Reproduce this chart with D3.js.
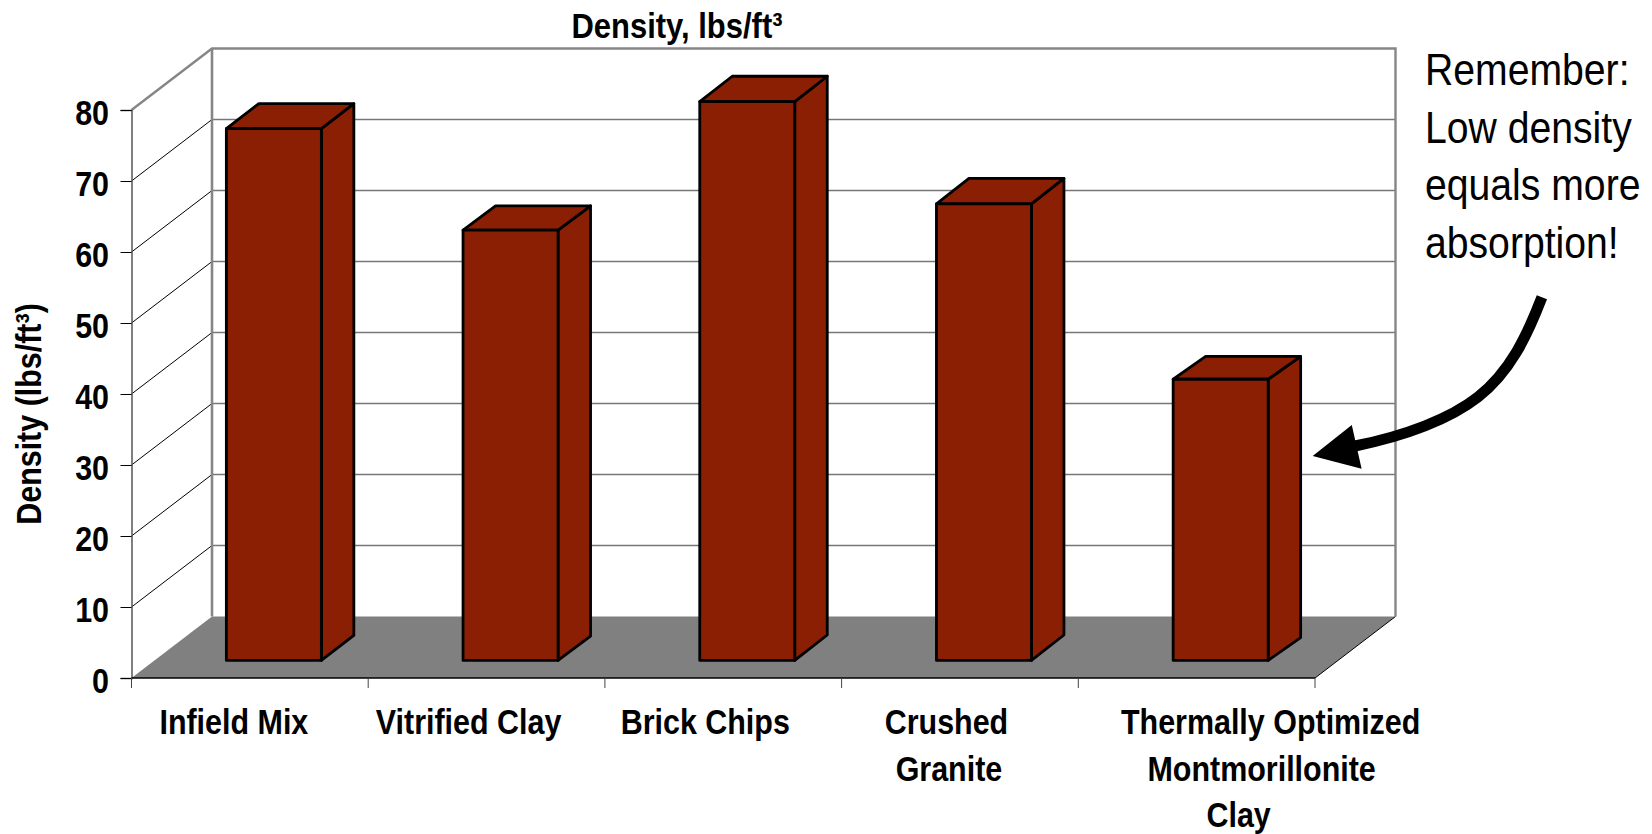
<!DOCTYPE html>
<html>
<head>
<meta charset="utf-8">
<title>Density, lbs/ft³</title>
<script src="https://cdnjs.cloudflare.com/ajax/libs/d3/7.8.5/d3.min.js"></script>
<style>
html, body { margin: 0; padding: 0; background: #fff; }
svg { display: block; }
text { font-family: "Liberation Sans", Arial, sans-serif; fill: #000; }
.lab { font-weight: 700; font-size: 35px; }
.note { font-weight: 400; font-size: 44px; }
</style>
</head>
<body>
<svg id="chart" width="1652" height="834"></svg>
<script>
// Bulk density of each infield material
const categories = ["Infield Mix", "Vitrified Clay", "Brick Chips", "Crushed Granite", "Thermally Optimized Montmorillonite Clay"];
const densities = [74.9, 60.6, 78.7, 64.3, 39.6];
const categoryLines = [["Infield Mix"], ["Vitrified Clay"], ["Brick Chips"], ["Crushed", "Granite"], ["Thermally Optimized", "Montmorillonite", "Clay"]];
const yTicks = [0, 10, 20, 30, 40, 50, 60, 70, 80];
const noteLines = ["Remember:", "Low density", "equals more", "absorption!"];

// Oblique projection of the 3-D box: wall offset and bar depth
const wall = { dx: 80.5, dy: 61.5 };
const frontInset = { dx: 24, dy: 17.6 };
const barDepthX = 32.5;
const barRise = [25, 24.3, 25.4, 25.4, 22.8];
const barWidth = 95;

// Horizontal offset of each category label line from its band centre
const labelShift = [[-16], [-18], [-18], [-13.5, -11], [74, 65, 42]];

// Horizontal squeeze that gives the narrow letterforms
const narrow = 0.87;

const svg = d3.select("#chart");
const y = d3.scaleLinear().domain([0, 80]).range([678, 110]);
const x = d3.scaleBand().domain(categories).range([131.5, 1315]);
const y0 = y(0), xL = x.range()[0], xR = x.range()[1];

// Floor
svg.append("path")
  .attr("d", d3.line()([[xL, y0], [xR, y0], [xR + wall.dx, y0 - wall.dy], [xL + wall.dx, y0 - wall.dy]]) + "Z")
  .attr("fill", "#808080");
svg.append("line")
  .attr("x1", xR).attr("y1", y0).attr("x2", xR + wall.dx).attr("y2", y0 - wall.dy)
  .attr("stroke", "#000").attr("stroke-width", 1);

// Back-wall gridlines
svg.append("g").selectAll("line").data(yTicks.filter(t => t > 0 && t < 80)).join("line")
  .attr("x1", xL + wall.dx).attr("x2", xR + wall.dx)
  .attr("y1", d => y(d) - wall.dy).attr("y2", d => y(d) - wall.dy)
  .attr("stroke", "#777").attr("stroke-width", 1.7);

// Side-wall diagonals
svg.append("g").selectAll("line").data(yTicks.filter(t => t > 0 && t < 80)).join("line")
  .attr("x1", xL).attr("x2", xL + wall.dx)
  .attr("y1", d => y(d)).attr("y2", d => y(d) - wall.dy)
  .attr("stroke", "#000").attr("stroke-width", 1);

// Wall outline
svg.append("path")
  .attr("d", d3.line()([[xL, y(80)], [xL + wall.dx, y(80) - wall.dy], [xR + wall.dx, y(80) - wall.dy], [xR + wall.dx, y0 - wall.dy]]))
  .attr("fill", "none").attr("stroke", "#868686").attr("stroke-width", 2.4);
svg.append("line")
  .attr("x1", xL + wall.dx).attr("x2", xL + wall.dx)
  .attr("y1", y(80) - wall.dy).attr("y2", y0 - wall.dy)
  .attr("stroke", "#868686").attr("stroke-width", 2.6);

// Axes
const yAxis = d3.axisLeft(y).tickValues(yTicks).tickSize(11).tickPadding(6);
const gy = svg.append("g").attr("transform", `translate(${xL},0)`).call(yAxis);
gy.select(".domain").attr("stroke", "#555").attr("stroke-width", 1.5);
gy.selectAll(".tick line").attr("stroke", "#000").attr("stroke-width", 1);
gy.selectAll(".tick text")
  .attr("class", "lab").attr("font-family", null).attr("font-size", null)
  .attr("x", 0).attr("dy", "14.2px").attr("transform", `translate(-22.5,0) scale(${narrow},1)`);

const boundaries = d3.range(categories.length + 1).map(i => xL + i * x.step());
svg.append("line").attr("x1", xL).attr("x2", xR).attr("y1", y0).attr("y2", y0)
  .attr("stroke", "#000").attr("stroke-width", 1.5);
svg.append("g").selectAll("line").data(boundaries).join("line")
  .attr("x1", d => d).attr("x2", d => d).attr("y1", y0).attr("y2", y0 + 10)
  .attr("stroke", "#444").attr("stroke-width", 1);

// Bars: front, top and side faces
const bars = svg.append("g").selectAll("g")
  .data(categories.map((c, i) => ({ c, v: densities[i], rise: barRise[i] }))).join("g")
  .attr("fill", "#8a1f04").attr("stroke", "#000").attr("stroke-width", 2.8).attr("stroke-linejoin", "round");
const left = d => x(d.c) + x.bandwidth() / 2 + frontInset.dx - barWidth / 2;
const top_ = d => y(d.v) - frontInset.dy;
const base = y0 - frontInset.dy;
const face = pts => d3.line()(pts) + "Z";
bars.append("path").attr("d", d => {
  const l = left(d) + barWidth, t = top_(d);
  return face([[l, t], [l + barDepthX, t - d.rise], [l + barDepthX, base - d.rise], [l, base]]);
});
bars.append("path").attr("d", d => {
  const l = left(d), t = top_(d);
  return face([[l, t], [l + barDepthX, t - d.rise], [l + barWidth + barDepthX, t - d.rise], [l + barWidth, t]]);
});
bars.append("rect")
  .attr("x", left).attr("y", top_).attr("width", barWidth).attr("height", d => base - top_(d));

// Category labels, one text per wrapped line
const catLabels = svg.append("g").selectAll("g").data(categoryLines).join("g")
  .attr("transform", (d, i) => `translate(${x(categories[i]) + x.bandwidth() / 2},0)`);
catLabels.selectAll("text").data((d, i) => d.map((s, j) => ({ s, j, dx: labelShift[i][j] }))).join("text")
  .attr("class", "lab").attr("text-anchor", "middle")
  .attr("transform", d => `translate(${d.dx},${734 + d.j * 46.5}) scale(${narrow},1)`)
  .text(d => d.s);

// Titles
svg.append("text").attr("class", "lab").attr("text-anchor", "middle")
  .attr("transform", "translate(677,38) scale(0.885,1)").text("Density, lbs/ft³");
svg.append("text").attr("class", "lab").attr("text-anchor", "middle")
  .attr("transform", `translate(41,414) rotate(-90) scale(${narrow},1)`).text("Density (lbs/ft³)");

// Callout text and curved arrow
svg.append("g").selectAll("text").data(noteLines).join("text")
  .attr("class", "note")
  .attr("transform", (d, i) => `translate(1425,${85 + i * 57.6}) scale(0.89,1)`).text(d => d);
const curve = d3.path();
curve.moveTo(1541.9, 297.3);
curve.bezierCurveTo(1527, 336, 1510, 372, 1478, 397);
curve.bezierCurveTo(1450, 419, 1405, 436, 1355, 446);
svg.append("path").attr("d", curve.toString()).attr("fill", "none").attr("stroke", "#000").attr("stroke-width", 11);
svg.append("path").attr("d", d3.line()([[1312.7, 456], [1351.8, 425], [1361.6, 468.7]]) + "Z").attr("fill", "#000");
</script>
</body>
</html>
